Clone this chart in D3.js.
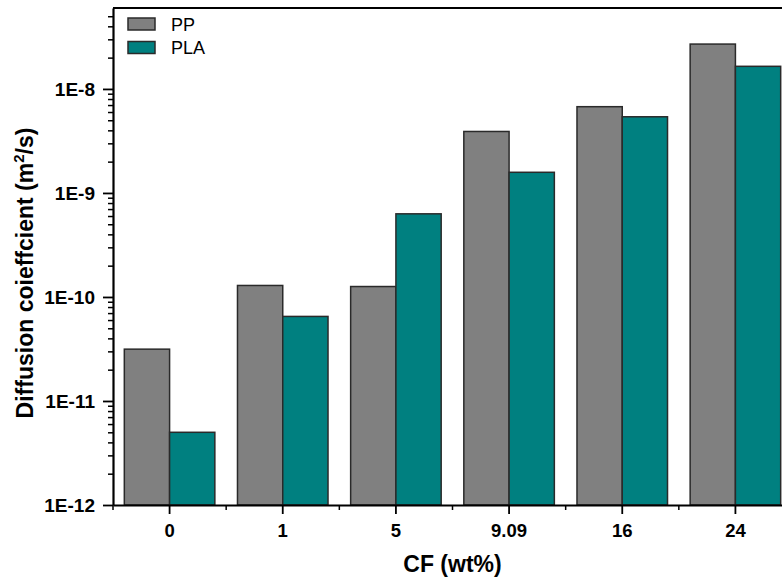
<!DOCTYPE html>
<html>
<head>
<meta charset="utf-8">
<script src="https://cdn.jsdelivr.net/npm/d3@7"></script>
<style>
  body { margin: 0; background: #fff; }
  svg { display: block; font-family: "Liberation Sans", Arial, sans-serif; }
</style>
</head>
<body>
<script>
// data
var categories = ["0", "1", "5", "9.09", "16", "24"];
var seriesNames = ["PP", "PLA"];
var ppValues = [3.15e-11, 1.29e-10, 1.26e-10, 3.9e-9, 6.75e-9, 2.7e-8];
var plaValues = [5.0e-12, 6.5e-11, 6.3e-10, 1.58e-9, 5.4e-9, 1.65e-8];
var yTickValues = [1e-12, 1e-11, 1e-10, 1e-9, 1e-8];
var yTickLabels = ["1E-12", "1E-11", "1E-10", "1E-9", "1E-8"];
var colors = ["#808080", "#008080"];

var W = 782, H = 577;
// plot box (right edge runs past the window, as in the source image)
var pLeft = 113, pRight = 792, pTop = 8, pBottom = 505;

var svg = d3.select("body").append("svg")
    .attr("width", W)
    .attr("height", H);

//scales
var x = d3.scaleBand().domain(categories).range([pLeft, pRight]).padding(0);
var xs = d3.scaleBand().domain(seriesNames)
    .range([x.bandwidth() * 0.1, x.bandwidth() * 0.9]).padding(0);
var y = d3.scaleLog().domain([1e-12, 6e-8]).range([pBottom, pTop]);

//bars
var rows = categories.map(function(c, i) {
    return {cat: c, vals: [ppValues[i], plaValues[i]]};
});
var g = svg.selectAll(".grp")
    .data(rows)
    .enter().append("g")
    .attr("class", "grp")
    .attr("transform", function(d) { return "translate(" + x(d.cat) + ",0)"; });

g.selectAll("rect")
    .data(function(d) { return d.vals.map(function(v, j) { return {name: seriesNames[j], v: v, j: j}; }); })
    .enter().append("rect")
    .attr("x", function(d) { return xs(d.name); })
    .attr("y", function(d) { return y(d.v); })
    .attr("width", xs.bandwidth())
    .attr("height", function(d) { return y(1e-12) - y(d.v); })
    .attr("fill", function(d) { return colors[d.j]; })
    .attr("stroke", "#2a2a2a")
    .attr("stroke-width", 1.5);

//minor y ticks
var minor = [];
for (var e = -12; e <= -8; e++) {
    for (var m = 2; m <= 9; m++) {
        var v = m * Math.pow(10, e);
        if (v <= 6e-8) minor.push(v);
    }
}
svg.append("g")
    .attr("transform", "translate(" + pLeft + ",0)")
    .call(d3.axisLeft(y).tickValues(minor).tickSize(5).tickFormat(""))
    .call(function(a) { a.select(".domain").remove(); })
    .selectAll("line").attr("stroke", "#000").attr("stroke-width", 1.5);

//major y axis
var yAxis = svg.append("g")
    .attr("transform", "translate(" + pLeft + ",0)")
    .call(d3.axisLeft(y).tickValues(yTickValues).tickSize(10).tickSizeOuter(0).tickPadding(8)
        .tickFormat(function(d, i) { return yTickLabels[i]; }));
yAxis.select(".domain").attr("stroke-width", 2.2);
yAxis.selectAll("line").attr("stroke-width", 1.8);
yAxis.selectAll("text").attr("font-size", 19).attr("font-weight", "bold")
    .attr("fill", "#000").attr("font-family", "Liberation Sans, Arial, sans-serif");

//x axis
var xAxis = svg.append("g")
    .attr("transform", "translate(0," + pBottom + ")")
    .call(d3.axisBottom(x).tickSize(9).tickSizeOuter(0).tickPadding(10));
xAxis.select(".domain").attr("stroke-width", 2.2);
xAxis.selectAll("line").attr("stroke-width", 1.8);
xAxis.selectAll("text").attr("font-size", 18.5).attr("font-weight", "bold")
    .attr("fill", "#000").attr("font-family", "Liberation Sans, Arial, sans-serif");

//minor x ticks at category edges
svg.append("g").selectAll("line")
    .data(categories)
    .enter().append("line")
    .attr("x1", function(d) { return x(d); })
    .attr("x2", function(d) { return x(d); })
    .attr("y1", pBottom)
    .attr("y2", pBottom + 5)
    .attr("stroke", "#000")
    .attr("stroke-width", 1.5);

//top frame line
svg.append("line")
    .attr("x1", pLeft).attr("x2", pRight)
    .attr("y1", pTop).attr("y2", pTop)
    .attr("stroke", "#000").attr("stroke-width", 2.2);

//axis titles
svg.append("text")
    .attr("x", (pLeft + pRight) / 2)
    .attr("y", 572)
    .attr("text-anchor", "middle")
    .attr("font-size", 23)
    .attr("font-weight", "bold")
    .text("CF (wt%)");

var yt = svg.append("text")
    .attr("transform", "translate(33,273) rotate(-90)")
    .attr("text-anchor", "middle")
    .attr("font-size", 23)
    .attr("font-weight", "bold");
yt.append("tspan").text("Diffusion coieffcient (m");
yt.append("tspan").attr("font-size", 15).attr("dy", -9).text("2");
yt.append("tspan").attr("dy", 9).text("/s)");

//legend
var leg = svg.append("g").selectAll("g")
    .data(seriesNames)
    .enter().append("g")
    .attr("transform", function(d, i) { return "translate(128," + (18 + i * 23.5) + ")"; });
leg.append("rect")
    .attr("width", 27).attr("height", 12)
    .attr("fill", function(d, i) { return colors[i]; })
    .attr("stroke", "#2a2a2a").attr("stroke-width", 1.5);
leg.append("text")
    .attr("x", 43).attr("y", 12.5)
    .attr("font-size", 18)
    .text(function(d) { return d; });
</script>
</body>
</html>
